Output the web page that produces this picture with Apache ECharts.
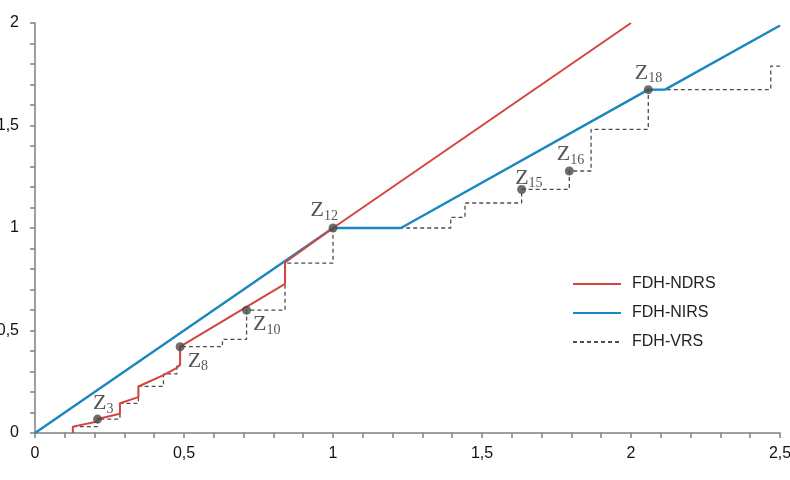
<!DOCTYPE html>
<html>
<head>
<meta charset="utf-8">
<script src="https://cdn.jsdelivr.net/npm/echarts@6/dist/echarts.min.js"></script>
<style>
  html, body { margin: 0; padding: 0; background: #fff; }
  #main { width: 790px; height: 480px; }
</style>
</head>
<body>
<div id="main"></div>
<script>
window.addEventListener('load', () => {
    main()
})

// FDH-NDRS frontier (vertices)
const ndrsX = [0.127, 0.127, 0.210, 0.210, 0.285, 0.285, 0.347, 0.347, 0.431, 0.431, 0.476, 0.476, 0.487, 0.487, 0.839, 0.839, 1.0, 2.0]
const ndrsY = [0, 0.031, 0.056, 0.068, 0.094, 0.145, 0.175, 0.227, 0.282, 0.288, 0.318, 0.327, 0.334, 0.421, 0.727, 0.832, 1.0, 2.0]

// FDH-NIRS frontier
const nirsX = [0, 1.0, 1.228, 2.058, 2.114, 2.5]
const nirsY = [0, 1.0, 1.0, 1.675, 1.675, 1.988]

// FDH-VRS staircase
const vrsX = [0.127, 0.210, 0.210, 0.285, 0.285, 0.347, 0.347, 0.431, 0.431, 0.476, 0.476, 0.487, 0.487,
    0.629, 0.629, 0.710, 0.710, 0.839, 0.839, 1.0, 1.0, 1.395, 1.395, 1.443, 1.443, 1.633, 1.633,
    1.793, 1.793, 1.866, 1.866, 2.058, 2.058, 2.469, 2.469, 2.5]
const vrsY = [0.031, 0.031, 0.068, 0.068, 0.145, 0.145, 0.227, 0.227, 0.288, 0.288, 0.327, 0.327, 0.421,
    0.421, 0.457, 0.457, 0.599, 0.599, 0.829, 0.829, 1.0, 1.0, 1.052, 1.052, 1.122, 1.122, 1.188,
    1.188, 1.278, 1.278, 1.481, 1.481, 1.675, 1.675, 1.790, 1.790]

// labelled DMUs
const dmuNames = ['3', '8', '10', '12', '15', '16', '18']
const dmuX = [0.210, 0.487, 0.710, 1.0, 1.633, 1.793, 2.058]
const dmuY = [0.068, 0.421, 0.599, 1.0, 1.188, 1.278, 1.675]
// label placement relative to the dot
const labelPos = [[0, -22], [12, 8], [11, 8], [-18, -24], [-2, -18], [-8, -23], [-9, -23]]

const toPairs = (xs, ys) => xs.map((x, i) => [x, ys[i]])
const commaFmt = v => String(v).replace('.', ',')

function main() {
    const chart = echarts.init(document.getElementById('main'), null, { renderer: 'canvas' })

    const axisCommon = {
        type: 'value',
        interval: 0.5,
        axisLine: { show: true, lineStyle: { color: '#808080', width: 1.5 } },
        axisTick: { show: true, length: 5, lineStyle: { color: '#808080', width: 1.5 } },
        minorTick: { show: true, splitNumber: 5, length: 5, lineStyle: { color: '#808080', width: 1.5 } },
        splitLine: { show: false },
        axisLabel: {
            color: '#111',
            fontSize: 16,
            fontFamily: 'Liberation Sans',
            formatter: commaFmt
        }
    }

    const option = {
        animation: false,
        backgroundColor: '#fff',
        grid: { left: 35, right: 10, top: 23, bottom: 47, containLabel: false, outerBoundsMode: 'none' },
        xAxis: Object.assign({}, axisCommon, {
            min: 0, max: 2.5,
            axisLabel: Object.assign({}, axisCommon.axisLabel, { margin: 13, showMaxLabel: true })
        }),
        yAxis: Object.assign({}, axisCommon, {
            min: 0, max: 2,
            axisLabel: Object.assign({}, axisCommon.axisLabel, { margin: 16 })
        }),
        legend: {
            orient: 'vertical',
            left: 567,
            top: 271,
            itemWidth: 48,
            itemHeight: 14,
            itemGap: 13,
            itemStyle: { opacity: 0 },
            data: ['FDH-NDRS', 'FDH-NIRS', 'FDH-VRS'],
            textStyle: { fontSize: 16, color: '#222', fontFamily: 'Liberation Sans', padding: [0, 0, 0, 6] }
        },
        series: [
            {
                name: 'FDH-VRS',
                type: 'line',
                data: toPairs(vrsX, vrsY),
                symbol: 'none',
                z: 2,
                lineStyle: { color: '#4d4d4d', width: 1.3, type: [4, 3] },
                itemStyle: { color: '#4d4d4d' }
            },
            {
                name: 'FDH-NIRS',
                type: 'line',
                data: toPairs(nirsX, nirsY),
                symbol: 'none',
                z: 3,
                lineStyle: { color: '#1a87bf', width: 2.4 },
                itemStyle: { color: '#1a87bf' }
            },
            {
                name: 'FDH-NDRS',
                type: 'line',
                data: toPairs(ndrsX, ndrsY),
                symbol: 'none',
                z: 4,
                lineStyle: { color: '#d5443c', width: 2 },
                itemStyle: { color: '#d5443c' }
            },
            {
                name: 'DMU',
                type: 'scatter',
                z: 5,
                symbolSize: 9,
                itemStyle: { color: '#4a4a4a' },
                data: dmuNames.map((n, i) => ({
                    value: [dmuX[i], dmuY[i]],
                    label: {
                        show: true,
                        position: labelPos[i],
                        align: 'left',
                        verticalAlign: 'top',
                        formatter: '{z|Z}{s|' + n + '}',
                        rich: {
                            z: { fontSize: 22, lineHeight: 22, fontFamily: 'Liberation Serif', color: '#2a2a2a' },
                            s: { fontSize: 14, lineHeight: 14, fontFamily: 'Liberation Serif', color: '#2a2a2a', padding: [11, 0, 0, 0] }
                        }
                    }
                }))
            }
        ]
    }
    chart.setOption(option)
}
</script>
</body>
</html>
